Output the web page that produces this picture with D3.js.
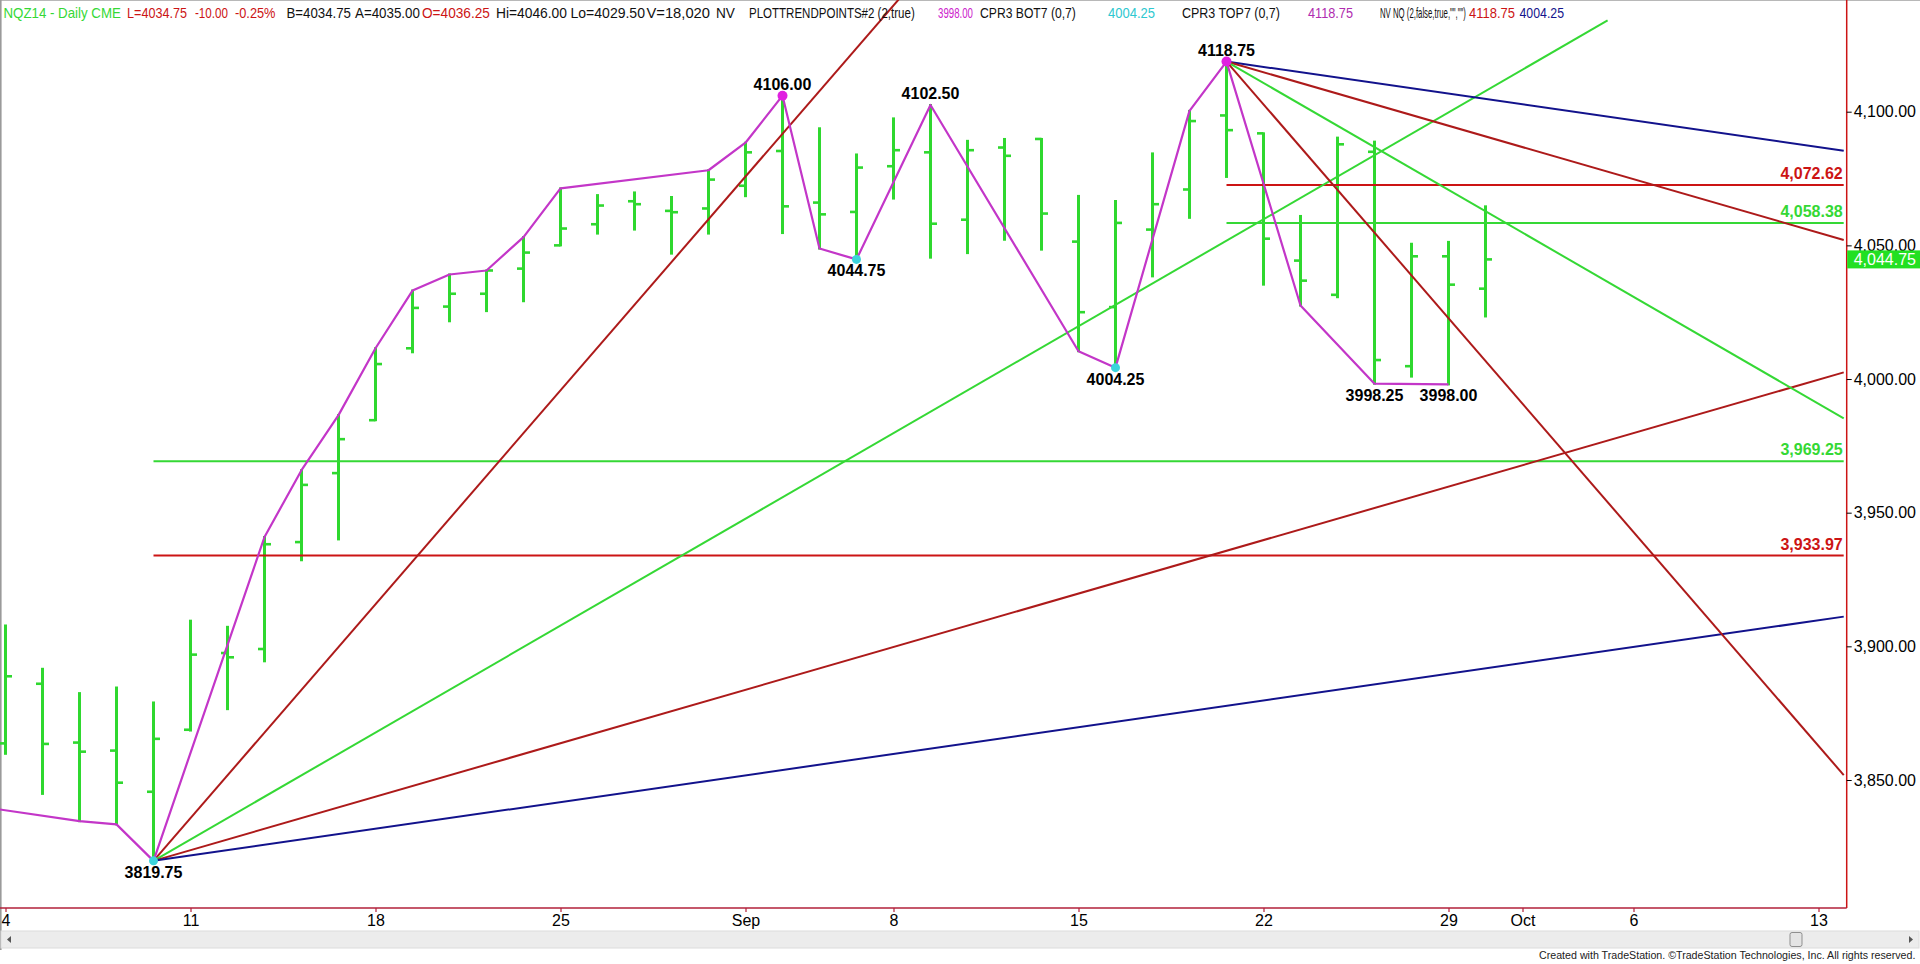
<!DOCTYPE html>
<html><head><meta charset="utf-8">
<script src="https://cdn.jsdelivr.net/npm/d3@7"></script>
<style>
html,body{margin:0;padding:0;background:#fff;overflow:hidden}
svg{display:block;font-family:"Liberation Sans",Arial,sans-serif}
</style></head>
<body>
<script>
// ---------------- DATA ----------------
// trading-day index (0 = Aug 4 2014)
const barIndex = d3.range(0, 41);
const opens  = [3863.7,3886.0,3864.0,3861.0,3845.6,3868.8,3897.5,3899.0,3939.0,3964.8,
                3984.6,4011.5,4027.1,4031.9,4041.3,4050.0,4057.9,4066.5,4062.9,4063.8,
                4072.3,4085.3,4066.0,4062.5,4079.6,4084.8,4059.6,4086.6,4089.8,4051.4,
                4026.9,4055.9,4070.9,4098.6,4091.9,4044.3,4031.5,4085.0,4004.8,4045.9,4033.8];
const highs  = [3907.8,3891.6,3882.5,3884.6,3879.0,3909.6,3907.3,3940.9,3965.9,3986.5,
                4011.5,4033.1,4039.1,4040.6,4053.1,4071.3,4068.8,4069.8,4068.1,4078.1,
                4088.4,4106.0,4093.8,4084.0,4097.5,4102.5,4089.1,4089.8,4089.8,4068.5,
                4066.6,4084.4,4100.3,4118.75,4091.9,4061.0,4090.3,4088.8,4050.6,4051.3,4064.6];
const lows   = [3859.8,3844.8,3834.6,3833.4,3819.75,3868.5,3876.5,3894.4,3932.2,3940.0,
                3984.6,4010.0,4021.6,4025.4,4029.1,4050.0,4054.4,4055.9,4046.9,4054.4,
                4068.4,4054.6,4048.8,4044.75,4067.5,4045.4,4047.1,4052.1,4048.4,4010.4,
                4004.25,4038.4,4060.3,4075.6,4035.3,4027.5,4030.6,3998.25,4000.9,3998.0,4023.4];
const closes = [3888.8,3863.5,3860.6,3849.0,3865.4,3896.9,3895.9,3938.2,3960.4,3977.5,
                4005.6,4026.6,4031.9,4040.6,4047.3,4056.3,4064.9,4065.4,4062.4,4074.6,
                4084.8,4064.6,4061.6,4079.1,4085.6,4058.1,4085.6,4083.5,4061.9,4025.0,
                4058.4,4065.4,4096.5,4093.1,4052.5,4036.8,4087.8,4007.1,4045.9,4035.3,4044.75];

// trend-point (zigzag) line
const zigIndex = [-1,2,3,4,7,8,9,10,11,12,13,14,15,19,20,21,22,23,25,29,30,32,33,35,37,39];
const zigPrice = [3840.7,3834.6,3833.4,3819.75,3940.9,3965.9,3986.5,4011.5,4033.1,4039.1,4040.6,
                  4053.1,4071.3,4078.1,4088.4,4106.0,4048.8,4044.75,4102.5,4010.4,4004.25,4100.3,
                  4118.75,4027.5,3998.25,3998.0];

// pivot labels
const pivotIndex = [4,21,23,25,30,33,37,39];
const pivotPrice = [3819.75,4106.00,4044.75,4102.50,4004.25,4118.75,3998.25,3998.00];
const pivotText  = ["3819.75","4106.00","4044.75","4102.50","4004.25","4118.75","3998.25","3998.00"];
const pivotSide  = ["below","above","below","above","below","above","below","below"];
const pivotDot   = ["cyan","magenta","cyan","none","cyan","magenta","none","none"];

// Gann fan lines (points per bar)
const fanAnchorIndex = [4,4,4,4,33,33,33,33];
const fanAnchorPrice = [3819.75,3819.75,3819.75,3819.75,4118.75,4118.75,4118.75,4118.75];
const fanSlope       = [16,8,4,2,-2,-4,-8,-16];
const fanEndIndex    = [null,43.3,null,null,null,null,null,null];
const fanColor       = ["darkred","green","darkred","blue","blue","darkred","green","darkred"];

// retracement levels
const levelValue = [3969.25,3933.97,4072.62,4058.38];
const levelFrom  = [4,4,33,33];
const levelText  = ["3,969.25","3,933.97","4,072.62","4,058.38"];
const levelColor = ["green","red","red","green"];

// axes
const yTicks = [3850,3900,3950,4000,4050,4100];
const xTickIndex = [0,5,10,15,20,24,29,34,39,41,44,49];
const xTickLabel = ["4","11","18","25","Sep","8","15","22","29","Oct","6","13"];
const lastPrice = 4044.75;

// header
const headerText  = ["NQZ14 - Daily  CME","L=4034.75","-10.00","-0.25%","B=4034.75","A=4035.00","O=4036.25",
                     "Hi=4046.00","Lo=4029.50","V=18,020","NV","PLOTTRENDPOINTS#2 (2,true)","3998.00",
                     "CPR3 BOT7 (0,7)","4004.25","CPR3 TOP7 (0,7)","4118.75",'NV NQ (2,false,true,"","")',
                     "4118.75","4004.25"];
const headerColor = ["green","red","red","red","black","black","red","black","black","black","black","black",
                     "magenta","black","cyan","black","purple","black","red","navy"];
const headerStart = [3.5,127,195,235,286.5,355,422,496,570.5,646.5,716,749,938,980,1108,1182,1308,1380,1469,1519.5];
const headerStop  = [121,187,228,275.5,351,420,490,567,645,710,735,915,973,1076,1155,1280,1353,1466,1515,1564];

// ---------------- STYLE ----------------
const COL = {
  green:"#35d835", darkred:"#ad1a1a", red:"#cc1414", blue:"#12128c", navy:"#14148c",
  magenta:"#cc22cc", purple:"#b02cb0", cyan:"#2ec8d0", black:"#111", bar:"#2fd82f",
  axis:"#b2203a", zig:"#c336c8"
};
const W = 1920, H = 964;
const plotRight = 1846.7, axisY = 908;

const svg = d3.select("body").append("svg").attr("width", W).attr("height", H);

const x = d3.scaleLinear().domain([0, 49]).range([5.5, 5.5 + 37 * 49]);
const y = d3.scaleLinear().domain([3850, 4100]).range([780, 111.7]);

svg.append("defs").append("clipPath").attr("id","plotclip")
  .append("rect").attr("x",0).attr("y",0).attr("width",plotRight).attr("height",axisY);

// frame
svg.append("line").attr("x1",0).attr("x2",W).attr("y1",0.5).attr("y2",0.5).attr("stroke","#b8b8b8");
svg.append("line").attr("x1",0.8).attr("x2",0.8).attr("y1",0).attr("y2",950).attr("stroke","#9a9a9a").attr("stroke-width",1.6);

const plot = svg.append("g").attr("clip-path","url(#plotclip)");

// bars
const bars = plot.append("g");
barIndex.forEach((d,i)=>{
  const cx = x(d);
  bars.append("line").attr("x1",cx).attr("x2",cx).attr("y1",y(highs[i])-1).attr("y2",y(lows[i])+1)
    .attr("stroke",COL.bar).attr("stroke-width",3);
  bars.append("line").attr("x1",cx-6.5).attr("x2",cx).attr("y1",y(opens[i])).attr("y2",y(opens[i]))
    .attr("stroke",COL.bar).attr("stroke-width",2.6);
  bars.append("line").attr("x1",cx).attr("x2",cx+6.5).attr("y1",y(closes[i])).attr("y2",y(closes[i]))
    .attr("stroke",COL.bar).attr("stroke-width",2.6);
});

// retracement levels
const edgeIndex = x.invert(plotRight);
levelValue.forEach((v,i)=>{
  plot.append("line").attr("x1",x(levelFrom[i])).attr("x2",plotRight-3)
    .attr("y1",y(v)).attr("y2",y(v)).attr("stroke",COL[levelColor[i]]).attr("stroke-width",2);
  svg.append("text").attr("x",plotRight-4).attr("y",y(v)-6).attr("text-anchor","end")
    .attr("font-size",16).attr("font-weight","bold").attr("fill",COL[levelColor[i]]).text(levelText[i]);
});

// fan lines
fanSlope.forEach((s,i)=>{
  const e = fanEndIndex[i] == null ? edgeIndex - 0.08 : fanEndIndex[i];
  const p0 = fanAnchorPrice[i], i0 = fanAnchorIndex[i];
  plot.append("line").attr("x1",x(i0)).attr("y1",y(p0))
    .attr("x2",x(e)).attr("y2",y(p0 + s*(e-i0)))
    .attr("stroke",COL[fanColor[i]]).attr("stroke-width",2);
});

// zigzag
const zig = zigIndex.map((d,i)=>[x(d), y(zigPrice[i])]);
plot.append("path").attr("d", d3.line()(zig)).attr("fill","none")
  .attr("stroke",COL.zig).attr("stroke-width",2.2).attr("stroke-linejoin","round");

// pivot dots & labels
pivotIndex.forEach((d,i)=>{
  const px = x(d), py = y(pivotPrice[i]);
  if (pivotDot[i] !== "none") {
    svg.append("circle").attr("cx",px).attr("cy",py).attr("r", pivotDot[i]==="magenta"?5:4.5)
      .attr("fill", pivotDot[i]==="magenta" ? "#e020e0" : "#3cd4dc");
  }
  svg.append("text").attr("x",px).attr("y", pivotSide[i]==="above" ? py-6 : py+17)
    .attr("text-anchor","middle").attr("font-size",16).attr("font-weight","bold").attr("fill","#000")
    .text(pivotText[i]);
});

// right axis
svg.append("line").attr("x1",plotRight).attr("x2",plotRight).attr("y1",0).attr("y2",axisY)
  .attr("stroke",COL.red).attr("stroke-width",1.5);
const yAxis = d3.axisRight(y).tickValues(yTicks).tickSize(5).tickPadding(2)
  .tickFormat(d3.format(",.2f"));
const ya = svg.append("g").attr("transform",`translate(${plotRight},0)`).call(yAxis);
ya.select(".domain").remove();
ya.selectAll("line").attr("stroke","#000");
ya.selectAll("text").attr("font-size",16).attr("font-family","Liberation Sans, Arial").attr("fill","#000");

// last price marker
svg.append("rect").attr("x",plotRight+0.5).attr("y",y(lastPrice)-9).attr("width",W-plotRight).attr("height",18)
  .attr("fill","#22e022");
svg.append("text").attr("x",plotRight+7).attr("y",y(lastPrice)+6).attr("font-size",16).attr("fill","#fff")
  .text(d3.format(",.2f")(lastPrice));

// bottom axis
const xAxis = d3.axisBottom(x).tickValues(xTickIndex).tickSize(4).tickPadding(3)
  .tickFormat((d,i)=>xTickLabel[i]);
const xa = svg.append("g").attr("transform",`translate(0,${axisY})`).call(xAxis);
xa.select(".domain").remove();
xa.selectAll("line").attr("stroke",COL.axis).attr("stroke-width",1.2);
xa.selectAll("text").attr("font-size",16).attr("font-family","Liberation Sans, Arial").attr("fill","#000");
svg.append("line").attr("x1",0).attr("x2",plotRight).attr("y1",axisY).attr("y2",axisY)
  .attr("stroke",COL.axis).attr("stroke-width",1.5);

// scrollbar
svg.append("rect").attr("x",1).attr("y",931).attr("width",W-2).attr("height",17)
  .attr("fill","#ececec").attr("stroke","#dcdcdc");
svg.append("rect").attr("x",1790).attr("y",932.5).attr("width",12).attr("height",14).attr("rx",2)
  .attr("fill","#e4e4e4").attr("stroke","#8f8f8f");
svg.append("path").attr("d","M11,936 L7,939.5 L11,943 Z").attr("fill","#555");
svg.append("path").attr("d","M1909,936 L1913,939.5 L1909,943 Z").attr("fill","#555");

// fitted text: natural width scaled horizontally into [x0, x1]
function fitText(parent, str, x0, x1, baseY, size, fill) {
  const t = parent.append("text").attr("x",0).attr("y",0).attr("font-size",size).attr("fill",fill).text(str);
  const w = t.node().getComputedTextLength();
  const sx = (x1 - x0) / w;
  t.attr("transform", `translate(${x0},${baseY}) scale(${sx},1)`);
  return t;
}

// footer
fitText(svg, "Created with TradeStation. \u00A9TradeStation Technologies, Inc. All rights reserved.",
        1539, 1916, 959, 11.5, "#222");

// header
const hdr = svg.append("g");
headerText.forEach((t,i)=>{
  fitText(hdr, t, headerStart[i], headerStop[i], 18, 15, COL[headerColor[i]]);
});
</script>
</body></html>
